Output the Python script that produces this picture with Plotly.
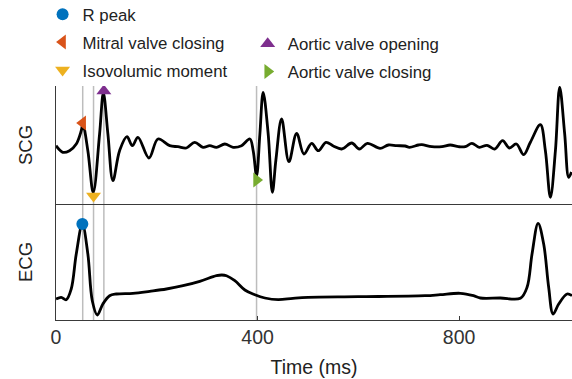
import plotly.graph_objects as go

# ---- data (time in ms, amplitudes in arbitrary units) ----
scg_t = [0, 13.5, 26.8, 40.2, 50.1, 53.3, 63.2, 74.0, 86.5, 94.0, 103, 112.9, 126.2, 140.8, 151.5,
         162.6, 184.5, 202.4, 225.6, 242.1, 258.8, 275.3, 291.8, 305.2, 318.5, 335, 351.5, 368.2,
         384.7, 391.3, 398, 404.6, 411.1, 421.1, 429.4, 436.4, 447.7, 462.2, 477.5, 492.0, 507.4,
         520.5, 535.8, 550.3, 567, 586.9, 602, 617.9, 643.1, 659.6, 676.3, 692.8, 701.4, 719.3,
         726.0, 745.9, 765.8, 782.3, 798.8, 812.1, 825.4, 840, 855.3, 870.4, 886.3, 899.6, 913.5,
         928.0, 941.4, 961.2, 971.2, 981.1, 991.1, 999.6, 1009.5, 1017.5, 1023]
scg_v = [0.13, -0.53, -0.37, 0.3, 1.63, 2.3, -0.37, -4.55, 1.3, 5.4, 1.3, -3.37, -0.37, 1.03, 0.13,
         0.97, -1.1, 0.8, 0.13, 0.03, -0.1, 0.47, -0.03, 0.13, -0.03, 0.3, -0.03, 0.13,
         0.8, -0.37, -2.9, 1.3, 5.47, 1.3, -4.53, -1.3, 2.8, -1.47, 1.37, -0.7, 0.37,
         -0.37, 0.47, 0.1, -0.2, 0.4, -0.2, 0.37, -0.13, 0.2, 0.13, 0.1, -0.03, 0.2,
         0.23, 0.03, 0.03, 0.2, 0.03, 0.03, 0.37, -0.03, 0.17, -0.2, 0.63, -0.1, 0.3,
         -0.77, 0.47, 2.23, -0.37, -5.03, -0.37, 5.97, 1.3, -3.03, -2.5]

ecg_t = [0, 10.3, 20.3, 30.2, 40.2, 52.3, 63.2, 72.0, 81.9, 93.0, 106.4, 119.7, 152.7, 185.9, 219.1,
         252.1, 285.3, 318.5, 329, 338.4, 354.9, 374.8, 394.6, 414.5, 441, 470.2, 500, 599.4,
         732.6, 762.4, 802.2, 828.6, 842, 881.7, 921.5, 934.8, 944.7, 956.7, 967.8, 977.7, 986.5,
         997.6, 1014.3, 1024]
ecg_v = [0, 0.17, -0.07, 1.0, 4.5, 7.5, 4.5, -0.17, -1.6, -0.5, 0.33, 0.5, 0.57, 0.77, 1.0,
         1.33, 1.77, 2.33, 2.4, 2.33, 1.83, 0.9, 0.43, 0.1, -0.07, 0.07, 0.17, 0.23,
         0.33, 0.43, 0.57, 0.33, 0.1, 0.1, 0.07, 1.17, 4.5, 7.57, 5.5, 1.17, -1.5,
         -0.5, 0.5, 0.33]

r_peak_t = [52.3]
r_peak_v = [7.5]
event_names = ["Mitral valve closing", "Isovolumic moment", "Aortic valve opening", "Aortic valve closing"]
event_t = [53, 74.5, 95, 398]
event_v = [2.4, -4.9, 5.6, -3.3]
event_symbols = ["triangle-left", "triangle-down", "triangle-up", "triangle-right"]
event_colors = ["#D95319", "#EDB120", "#7E2F8E", "#77AC30"]
event_legend = ["legend", "legend", "legend2", "legend2"]

x_ticks = [0, 400, 800]

FONT = "Liberation Sans, Arial, sans-serif"

fig = go.Figure()

# signals
fig.add_trace(go.Scatter(x=scg_t, y=scg_v, mode="lines", line=dict(color="black", width=2.8, shape="spline", smoothing=1.0),
                         showlegend=False, xaxis="x", yaxis="y", hoverinfo="skip"))
fig.add_trace(go.Scatter(x=ecg_t, y=ecg_v, mode="lines", line=dict(color="black", width=2.8, shape="spline", smoothing=1.0),
                         showlegend=False, xaxis="x2", yaxis="y2", hoverinfo="skip"))

# markers
fig.add_trace(go.Scatter(x=r_peak_t, y=r_peak_v, mode="markers", name="R peak",
                         marker=dict(symbol="circle", size=12, color="#0072BD"),
                         xaxis="x2", yaxis="y2", legend="legend", legendgroup="g0"))
for i, name in enumerate(event_names):
    fig.add_trace(go.Scatter(x=[event_t[i]], y=[event_v[i]], mode="markers", name=name,
                             marker=dict(symbol=event_symbols[i], size=13, color=event_colors[i]),
                             xaxis="x", yaxis="y", legend=event_legend[i], legendgroup=f"g{i+1}"))

# vertical grey lines through both panels
for t in event_t:
    fig.add_shape(type="line", xref="x", yref="paper", x0=t, x1=t, y0=0, y1=1,
                  line=dict(color="#BDBDBD", width=1.5), layer="below")

split = 116 / 234
xr = [0, 1024]
axis_col = "#3a3a3a"

fig.update_layout(
    width=572, height=379,
    margin=dict(l=56, r=0, t=86, b=59, autoexpand=False),
    plot_bgcolor="white", paper_bgcolor="white",
    font=dict(family=FONT, size=15, color="#222222"),
    xaxis=dict(domain=[0, 1], anchor="y", range=xr, showline=True, linecolor=axis_col, linewidth=1,
               showticklabels=False, ticks="", showgrid=False, zeroline=False, matches="x2"),
    yaxis=dict(domain=[split, 1], anchor="x", range=[-5.7, 6.1], showline=True, linecolor=axis_col,
               linewidth=1, showticklabels=False, ticks="", showgrid=False, zeroline=False,
               title=dict(text="SCG", standoff=17, font=dict(size=18.5))),
    xaxis2=dict(domain=[0, 1], anchor="y2", range=xr, showline=True, linecolor=axis_col, linewidth=1,
                tickvals=x_ticks, ticktext=[str(v) for v in x_ticks], ticks="inside", ticklen=4,
                tickcolor=axis_col, showgrid=False, zeroline=False,
                tickfont=dict(size=19.5, color="#333333"),
                title=dict(text="Time (ms)", standoff=12, font=dict(size=19.5))),
    yaxis2=dict(domain=[0, split], anchor="x2", range=[-2.1, 9.5], showline=True, linecolor=axis_col,
                linewidth=1, showticklabels=False, ticks="", showgrid=False, zeroline=False,
                title=dict(text="ECG", standoff=17, font=dict(size=18.5))),
    legend=dict(x=-0.026, y=1.381, xanchor="left", yanchor="top", bgcolor="rgba(0,0,0,0)",
                font=dict(size=16.8, color="#222222"), tracegroupgap=3),
    legend2=dict(x=0.3715, y=1.255, xanchor="left", yanchor="top", bgcolor="rgba(0,0,0,0)",
                 font=dict(size=16.8, color="#222222"), tracegroupgap=3),
)

fig.write_html("out.html", config={"displayModeBar": False},
               post_script="document.body.style.margin='0';document.body.style.overflow='hidden';")
